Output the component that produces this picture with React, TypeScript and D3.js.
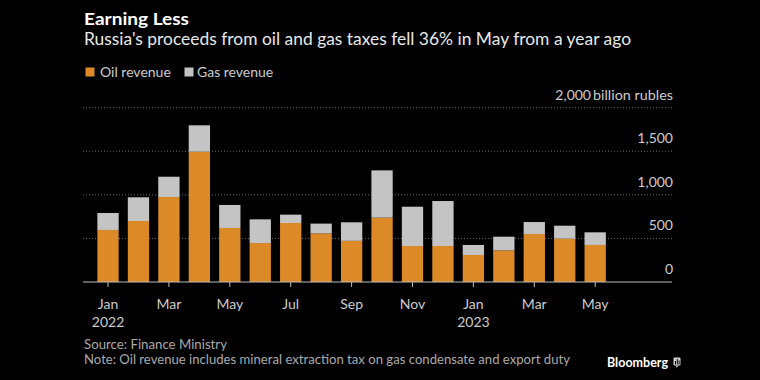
import React from "react";
import * as d3 from "d3";

const categories = [
  "Jan 2022", "Feb 2022", "Mar 2022", "Apr 2022", "May 2022", "Jun 2022",
  "Jul 2022", "Aug 2022", "Sep 2022", "Oct 2022", "Nov 2022", "Dec 2022",
  "Jan 2023", "Feb 2023", "Mar 2023", "Apr 2023", "May 2023",
];
const oilRevenue = [597, 700, 975, 1495, 620, 447, 677, 558, 472, 738, 413, 413, 310, 363, 551, 497, 425];
const gasRevenue = [195, 272, 233, 303, 264, 272, 96, 112, 213, 543, 451, 516, 115, 157, 137, 149, 145];
const tickCategories = ["Jan 2022", "Mar 2022", "May 2022", "Jul 2022", "Sep 2022", "Nov 2022", "Jan 2023", "Mar 2023", "May 2023"];
const tickMonths = ["Jan", "Mar", "May", "Jul", "Sep", "Nov", "Jan", "Mar", "May"];
const tickYears = ["2022", "", "", "", "", "", "2023", "", ""];
const yTicks = [0, 500, 1000, 1500, 2000];
const yTickLabels = ["0", "500", "1,000", "1,500", "2,000"];

const OIL = "#dc8a27";
const GAS = "#c4c4c4";
const FONT = "Lato, 'Open Sans', sans-serif";

export default function App() {
  const W = 760;
  const H = 380;
  const axisLeft = 83;
  const axisRight = 672;
  const x = d3
    .scaleBand<string>()
    .domain(categories)
    .range([92.8, 610.4])
    .paddingInner(0.3)
    .paddingOuter(0.15);
  const y = d3.scaleLinear().domain([0, 2000]).range([282, 107.7]);
  const stack = d3
    .stack<number>()
    .keys(["oil", "gas"])
    .value((i, key) => (key === "oil" ? oilRevenue[i] : gasRevenue[i]));
  const series = stack(categories.map((_, i) => i));
  const colors = [OIL, GAS];

  return (
    <svg
      width={W}
      height={H}
      style={{ position: "fixed", left: 0, top: 0, display: "block" }}
      fontFamily={FONT}
    >
      <rect x={0} y={0} width={W} height={H} fill="#000" />
      {/* Title */}
      <text x={84} y={25} fill="#ffffff" fontSize={17} fontWeight={700} textLength={105} lengthAdjust="spacingAndGlyphs">
        Earning Less
      </text>
      <text x={84} y={44.5} fill="#e8e8e8" fontSize={17} textLength={547} lengthAdjust="spacingAndGlyphs">
        Russia's proceeds from oil and gas taxes fell 36% in May from a year ago
      </text>
      {/* Legend */}
      <rect x={85.5} y={67.5} width={9} height={9} fill={OIL} />
      <text x={100} y={77} fill="#cccccc" fontSize={14}>Oil revenue</text>
      <rect x={184.5} y={67.5} width={9} height={9} fill={GAS} />
      <text x={197} y={77} fill="#cccccc" fontSize={14}>Gas revenue</text>

      {/* Gridlines */}
      {yTicks.filter((t) => t > 0).map((t) => (
        <line
          key={"g" + t}
          x1={axisLeft}
          x2={axisRight}
          y1={y(t)}
          y2={y(t)}
          stroke="#6a6a6a"
          strokeWidth={1}
          strokeDasharray="1,2"
        />
      ))}
      {/* Y labels */}
      {yTicks.map((t, i) => (
        <text
          key={"yl" + t}
          x={t === 2000 ? 591 : 673}
          y={y(t) - 8}
          fill="#cccccc"
          fontSize={14}
          textAnchor="end"
        >
          {yTickLabels[i]}
        </text>
      ))}
      <text x={593} y={y(2000) - 8} fill="#cccccc" fontSize={14} textLength={80} lengthAdjust="spacingAndGlyphs">
        billion rubles
      </text>

      {/* Bars */}
      {series.map((s, si) =>
        s.map((d, i) => (
          <rect
            key={si + "-" + i}
            x={x(categories[i])}
            width={x.bandwidth()}
            y={y(d[1])}
            height={y(d[0]) - y(d[1])}
            fill={colors[si]}
          />
        ))
      )}

      {/* X axis */}
      <line x1={axisLeft} x2={axisRight} y1={282} y2={282} stroke="#bdbdbd" strokeWidth={1} />
      {tickCategories.map((c, i) => {
        const cx = (x(c) as number) + x.bandwidth() / 2;
        return (
          <g key={"xt" + i}>
            <line x1={cx} x2={cx} y1={282} y2={287} stroke="#bdbdbd" strokeWidth={1} />
            <text x={cx} y={308.5} fill="#cccccc" fontSize={14} textAnchor="middle">
              {tickMonths[i]}
            </text>
            {tickYears[i] && (
              <text x={cx} y={326.5} fill="#cccccc" fontSize={14} textAnchor="middle">
                {tickYears[i]}
              </text>
            )}
          </g>
        );
      })}

      {/* Footer */}
      <text x={84} y={348.5} fill="#aaaaaa" fontSize={13} textLength={143} lengthAdjust="spacingAndGlyphs">
        Source: Finance Ministry
      </text>
      <text x={84} y={363.5} fill="#aaaaaa" fontSize={13} textLength={486} lengthAdjust="spacingAndGlyphs">
        Note: Oil revenue includes mineral extraction tax on gas condensate and export duty
      </text>
      <text x={607} y={366.5} fill="#ffffff" fontSize={13.5} fontWeight={700} textLength={61} lengthAdjust="spacingAndGlyphs">
        Bloomberg
      </text>
      <g>
        <rect x={673.5} y={357.5} width={7} height={8} rx={1} fill="#d0d0d0" />
        <rect x={675} y={361} width={1} height={3.5} fill="#000" />
        <rect x={676.8} y={359} width={1} height={5.5} fill="#000" />
        <rect x={678.6} y={360.5} width={1} height={4} fill="#000" />
        <path d="M675.5,365.5 L677,368 L678,365.5 Z" fill="#d0d0d0" />
      </g>
    </svg>
  );
}
